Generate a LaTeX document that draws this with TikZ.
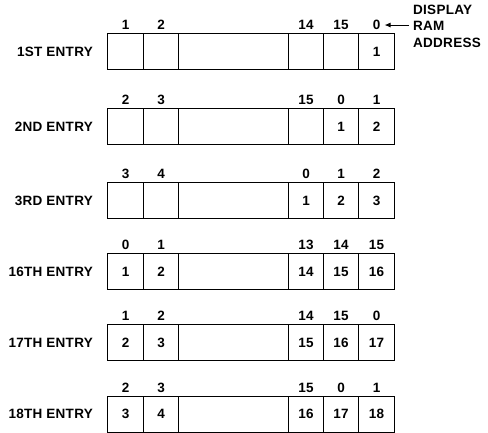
\documentclass[tikz,border=0pt]{standalone}
\usepackage{fontspec}
\setmainfont{Liberation Sans}[LetterSpace=2.0]
\usetikzlibrary{arrows.meta,positioning}

\tikzset{
  x=1pt, y=-1pt,
  txt/.style={font=\fontsize{13.5}{16.5}\selectfont\bfseries, inner sep=0pt},
  cell/.style={draw, line width=1.1pt, minimum height=36pt, anchor=north west, inner sep=0pt},
  addr/.style={txt},
  val/.style={txt},
  entrylabel/.style={txt, anchor=east},
}

% one entry of the display RAM: #1 row, #2 top edge, #3 name, #4 addresses, #5 contents
\newcommand{\entryrow}[5]{%
  \foreach \col/\xx/\ww in {1/107/36,2/143/35,3/178/110,4/288/35,5/323/35,6/358/36}
    \node[cell, minimum width=\ww pt] (e#1c\col) at (\xx,#2) {};
  \foreach \lbl [count=\col] in {#4}
    \node[addr, above=3pt of e#1c\col] (t#1c\col) {\lbl};
  \foreach \cnt [count=\col] in {#5}
    \node[val] (v#1c\col) at (e#1c\col) {\cnt};
  \node[entrylabel, left=14pt of e#1c1] (l#1) {#3};
}

\begin{document}
\begin{tikzpicture}
  \useasboundingbox (0,0) rectangle (488,433);

  \entryrow{1}{33}{1ST ENTRY}{1,2,,14,15,0}{,,,,,1}
  \entryrow{2}{108}{2ND ENTRY}{2,3,,15,0,1}{,,,,1,2}
  \entryrow{3}{182}{3RD ENTRY}{3,4,,0,1,2}{,,,1,2,3}
  \entryrow{4}{253}{16TH ENTRY}{0,1,,13,14,15}{1,2,,14,15,16}
  \entryrow{5}{324}{17TH ENTRY}{1,2,,14,15,0}{2,3,,15,16,17}
  \entryrow{6}{395.5}{18TH ENTRY}{2,3,,15,0,1}{3,4,,16,17,18}

  % note on the top row
  \node[txt, align=left, anchor=west] (addrnote) at (413,26) {DISPLAY\\RAM\\ADDRESS};
  \draw[line width=1pt, -{Latex[length=6pt,width=5pt]}, shorten <=4pt, shorten >=4pt]
    (addrnote.west |- t1c6) -- (t1c6.east);
\end{tikzpicture}
\end{document}
